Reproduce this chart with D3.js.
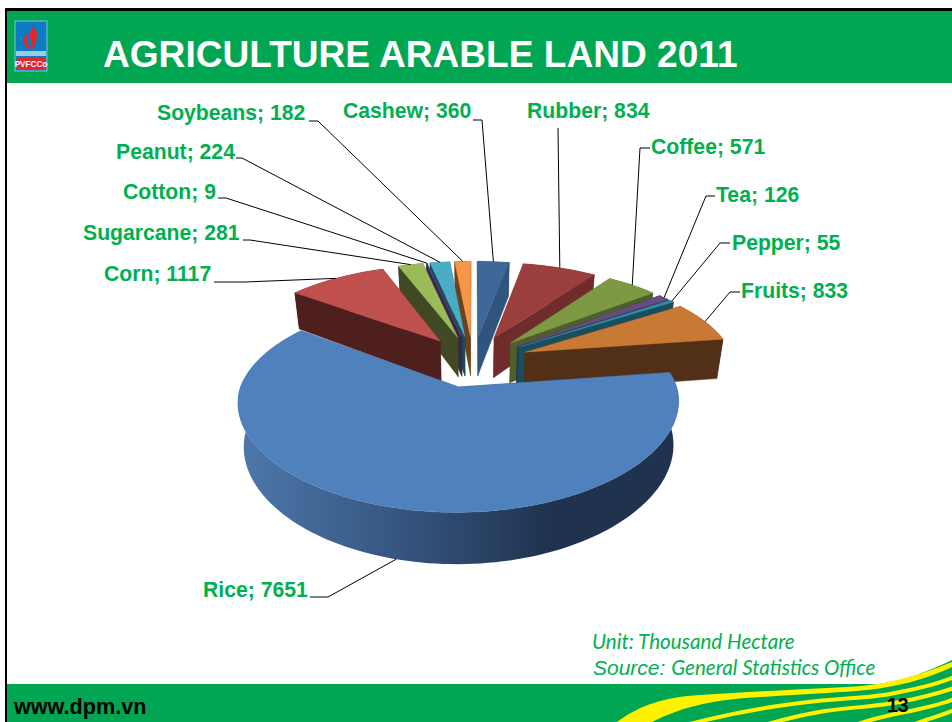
<!DOCTYPE html>
<html><head><meta charset="utf-8">
<style>html,body{margin:0;padding:0;background:#fff;overflow:hidden}svg{display:block}</style>
<script src="https://cdn.jsdelivr.net/npm/d3@7/dist/d3.min.js"></script></head>
<body><svg id="c" width="952" height="722"></svg>
<script>
const categories=["Rice","Corn","Sugarcane","Cotton","Peanut","Soybeans","Cashew","Rubber","Coffee","Tea","Pepper","Fruits"];
const values=[7651,1117,281,9,224,182,360,834,571,126,55,833];
const topColors=["#4F81BD","#C0504D","#9BBB59","#5F4A85","#4BACC6","#F79646","#3F6797","#9A3F3D","#7D9944","#634E80","#358BA3","#C87933"];
const wallColors=["#2B4A70","#4F1F1E","#3F4A24","#352848","#1E4A57","#6B421D","#31547F","#6F2C2A","#4D5F2A","#3C2F4D","#174F5F","#522F17"];
const labelX=[203,104,83,123,116,157,343,527,651,716,732,741];
const labelBaseline=[597,281,240,199,159,120,118,118,154,202,250,298];
const leaderStart=[[310,597],[214,282],[243,240],[218,198],[236,158],[309,121],[473,120],[558,128],[650,148],[715,196],[730,243],[740,292]];
const leaderElbow=[[328,597],[245,282],[250,240],[226,198],[242,158],[318,121],[482,120],[558,128],[640,148],[706,196],[720,243],[730,292]];

const GREEN="#00A651",TEXTGREEN="#00B050",YELLOW="#FFF200";
const svg=d3.select("#c");
const bg=svg.append("g");

// frame
bg.append("rect").attr("x",5).attr("y",8).attr("width",947).attr("height",714).attr("fill","#000");
bg.append("rect").attr("x",7).attr("y",11).attr("width",945).attr("height",711).attr("fill","#fff");
bg.append("rect").attr("x",7).attr("y",11).attr("width",945).attr("height",72).attr("fill",GREEN);
bg.append("rect").attr("x",7).attr("y",684).attr("width",945).attr("height",38).attr("fill",GREEN);

// footer swoosh
bg.append("path").attr("fill",GREEN).attr("d","M880,684 C905,680 930,671 952,660 L952,722 L880,722 Z");
bg.append("path").attr("fill",YELLOW).attr("d","M617,722 C640,705 665,697 700,695 C745,692 790,690 827,688 C855,687 875,685 893,681 C915,676 935,669 952,662 L952,667 C935,675 915,682 893,686 C875,690 855,691 827,693 C790,695 760,697 735,699 C705,702 680,708 652,722 Z");
const stripes=["M690,724 C720,716 760,708 800,703 C840,698 870,698 890,694 C915,689 935,685 954,677",
"M768,724 C785,719 800,715 825,711 C855,707 880,706 900,702 C920,698 935,695 954,688",
"M858,724 C875,718 890,715 905,712 C925,708 940,705 954,699",
"M915,724 C928,719 940,716 954,710"];
bg.selectAll("path.st").data(stripes).join("path").attr("class","st").attr("d",d=>d).attr("fill","none").attr("stroke",YELLOW).attr("stroke-width",4);

// logo
const logo=svg.append("g");
logo.append("rect").attr("x",15).attr("y",21).attr("width",32).attr("height",50).attr("fill","#0A7CC4").attr("stroke","#7EC8C8").attr("stroke-width",1);
logo.append("path").attr("fill","#E3262E").attr("d","M33,26 C38,32 38,37 36,41 C35,45 35,47 31,50 C34,44 30,41 30,37 C29,33 31,30 33,26 Z");
logo.append("path").attr("fill","#E3262E").attr("d","M27,33 C22,39 23,46 30,50 C28,45 28,40 27,33 Z");
logo.append("rect").attr("x",16).attr("y",51).attr("width",30).attr("height",5).attr("fill","#9CCBE6");
logo.append("rect").attr("x",17).attr("y",57).attr("width",28).attr("height",12).attr("fill","#E3262E");
logo.append("text").attr("x",31).attr("y",66.5).attr("text-anchor","middle").attr("font-family","Liberation Sans").attr("font-weight","bold").attr("font-size",8.2).attr("fill","#fff").text("PVFCCo");

// title & text
const sans="'Liberation Sans',Arial,sans-serif";
svg.append("text").attr("x",103).attr("y",67).attr("font-family",sans).attr("font-weight","bold").attr("font-size",37.1).attr("fill","#fff").text("AGRICULTURE ARABLE LAND 2011");
svg.append("text").attr("x",14).attr("y",714).attr("font-family",sans).attr("font-weight","bold").attr("font-size",21.6).attr("fill","#000").text("www.dpm.vn");
svg.append("text").attr("x",887).attr("y",712).attr("font-family",sans).attr("font-weight","bold").attr("font-size",19.5).attr("fill","#000").text("13");
const noteFont="Lato,'Open Sans',sans-serif";
svg.append("text").attr("x",592).attr("y",649).attr("font-family",noteFont).attr("font-style","italic").attr("font-size",20.6).attr("fill",TEXTGREEN).text("Unit: Thousand Hectare");
const src=svg.append("text").attr("x",593).attr("y",675).attr("font-family",noteFont).attr("font-style","italic").attr("font-size",20.6).attr("fill",TEXTGREEN);
src.append("tspan").attr("font-family",sans).attr("font-size",21).text("Source: ");
src.append("tspan").text("General Statistics Office");

// pie
const total=d3.sum(values);
const cashewIdx=categories.indexOf("Cashew");
const startA=-d3.sum(values.slice(0,cashewIdx))/total*2*Math.PI;
const arcs=d3.pie().sort(null).startAngle(startA).endAngle(startA+2*Math.PI)(values);

const cx=473,cy=361,sx=209,sy=95,px=.16,py=.165,explode=.27,wallH=41,bottomShrink=.975,frontY=.26,frontEase=.85;
function project(X,Y,bottom){
  const Yx=Y>frontY?frontY+(Y-frontY)*frontEase:Y;
  const x=sx*X/(1-px*Yx), y=sy*Y/(1-py*Y);
  if(!bottom) return [cx+x,cy+y];
  return [cx+x*bottomShrink,cy+y+wallH/(1-py*Y)];
}
const polar=(a,r)=>[Math.sin(a)*r,-Math.cos(a)*r];
const line=d3.line();
const slices=arcs.map(d=>{
  const i=d.index, mid=(d.startAngle+d.endAngle)/2, o=polar(mid,explode);
  const n=Math.max(2,Math.ceil((d.endAngle-d.startAngle)/.03));
  const as=d3.range(n+1).map(k=>d.startAngle+(d.endAngle-d.startAngle)*k/n);
  const model=as.map(a=>{const p=polar(a,1);return [o[0]+p[0],o[1]+p[1]];});
  const pct=polar(mid,1);
  return {i,mid,o,model,depth:o[1]+pct[1]*.6,tip:[o[0]+pct[0],o[1]+pct[1]]};
}).sort((a,b)=>a.depth-b.depth);

const defs=svg.append("defs");
const grad=defs.append("linearGradient").attr("id","riceWall").attr("gradientUnits","userSpaceOnUse").attr("x1",243).attr("x2",550).attr("y1",0).attr("y2",0);
grad.append("stop").attr("offset",0).attr("stop-color","#4C77AA");
grad.append("stop").attr("offset",.5).attr("stop-color","#365680");
grad.append("stop").attr("offset",1).attr("stop-color","#1F334F");

const pie=svg.append("g");
slices.forEach(s=>{
  const c=wallColors[s.i], fill=s.i===0?"url(#riceWall)":c;
  const quad=(a,b)=>line([project(a[0],a[1]),project(b[0],b[1]),project(b[0],b[1],1),project(a[0],a[1],1)])+"Z";
  const first=s.model[0], last=s.model[s.model.length-1];
  const walls=[{m:(first[1]+s.o[1])/2,d:quad(s.o,first),f:c},{m:(last[1]+s.o[1])/2,d:quad(s.o,last),f:c}].sort((a,b)=>a.m-b.m);
  const g=pie.append("g").attr("class","slice").attr("data-cat",categories[s.i]);
  g.selectAll("path.w").data(walls).join("path").attr("class","w").attr("d",d=>d.d).attr("fill",d=>d.f).attr("stroke",d=>d.f).attr("stroke-width",.4);
  const ribbon=s.model.map(m=>project(m[0],m[1])).concat(s.model.slice().reverse().map(m=>project(m[0],m[1],1)));
  g.append("path").attr("d",line(ribbon)+"Z").attr("fill",fill);
  const top=[project(s.o[0],s.o[1])].concat(s.model.map(m=>project(m[0],m[1])));
  g.append("path").attr("d",line(top)+"Z").attr("fill",topColors[s.i]).attr("stroke",topColors[s.i]).attr("stroke-width",.4);
});

// leaders & labels
const byIndex=d3.index(slices,s=>s.i);
const leaders=svg.append("g");
categories.forEach((name,i)=>{
  const s=byIndex.get(i);
  const tip=project(s.tip[0],s.tip[1],i===0);
  leaders.append("path").attr("d",line([leaderStart[i],leaderElbow[i],tip])).attr("fill","none").attr("stroke","#000").attr("stroke-width",1);
  svg.append("text").attr("x",labelX[i]).attr("y",labelBaseline[i]).attr("font-family",sans).attr("font-weight","bold").attr("font-size",21.2).attr("fill",TEXTGREEN).text(name+"; "+values[i]);
});
</script></body></html>
